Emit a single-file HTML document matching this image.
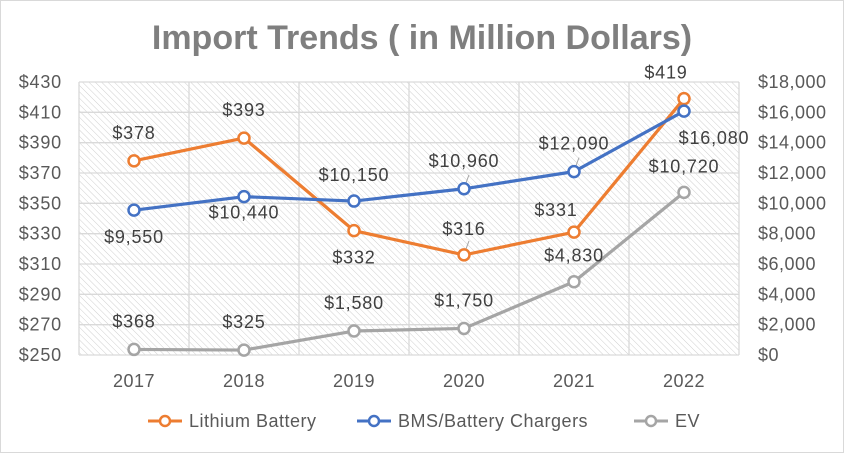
<!DOCTYPE html>
<html><head><meta charset="utf-8"><style>
body{margin:0;background:#fff;font-family:"Liberation Sans",sans-serif}
svg text{font-family:"Liberation Sans",sans-serif}
</style></head><body>
<svg id="chart" width="844" height="453" viewBox="0 0 844 453">
<defs><pattern id="hatch" width="4.5" height="4.5" patternUnits="userSpaceOnUse" patternTransform="rotate(-45)"><line x1="0" y1="0" x2="0" y2="4.5" stroke="#d0d0d0" stroke-width="1"/></pattern></defs>
<rect x="0.5" y="0.5" width="843" height="452" fill="#fff" stroke="#d9d9d9"/>
<text x="422" y="49" text-anchor="middle" font-size="34" font-weight="bold" fill="#7f7f7f">Import Trends ( in Million Dollars)</text>
<rect x="79" y="82" width="660" height="273" fill="url(#hatch)"/>
<g id="grid"></g><g id="axes"></g><g id="series"></g><g id="labels"></g>
<g font-size="18" letter-spacing="0.5">
<g><line x1="148" y1="421" x2="182" y2="421" stroke="#ed7d31" stroke-width="3"/><circle cx="165" cy="421" r="5" fill="#fff" stroke="#ed7d31" stroke-width="2.5"/><text x="189" y="427" fill="#595959">Lithium Battery</text></g>
<g><line x1="357" y1="421" x2="391" y2="421" stroke="#4472c4" stroke-width="3"/><circle cx="374" cy="421" r="5" fill="#fff" stroke="#4472c4" stroke-width="2.5"/><text x="398" y="427" fill="#595959">BMS/Battery Chargers</text></g>
<g><line x1="634" y1="421" x2="668" y2="421" stroke="#a5a5a5" stroke-width="3"/><circle cx="651" cy="421" r="5" fill="#fff" stroke="#a5a5a5" stroke-width="2.5"/><text x="675" y="427" fill="#595959">EV</text></g>
</g>
</svg>
<script>
const categories=["2017","2018","2019","2020","2021","2022"];
const lithium=[378,393,332,316,331,419];
const bms=[9550,10440,10150,10960,12090,16080];
const ev=[368,325,1580,1750,4830,10720];
const leftTicks=[250,270,290,310,330,350,370,390,410,430];
const rightTicks=[0,2000,4000,6000,8000,10000,12000,14000,16000,18000];
const NS="http://www.w3.org/2000/svg";
const X0=79,X1=739,Y0=355,Y1=82;
const bw=(X1-X0)/categories.length;
const x=i=>X0+bw*(i+0.5);
const yL=v=>Y0-(v-250)/180*(Y0-Y1);
const yR=v=>Y0-v/18000*(Y0-Y1);
function mk(tag,attrs,parent,text){const e=document.createElementNS(NS,tag);for(const k in attrs)e.setAttribute(k,attrs[k]);if(text!==undefined)e.textContent=text;document.getElementById(parent).appendChild(e);return e;}
const fmt=v=>"$"+v.toLocaleString("en-US");
leftTicks.forEach((t,i)=>{
 const g=mk("line",{x1:X0,x2:X1,y1:yL(t),y2:yL(t),stroke:"#d9d9d9","stroke-width":1.3},"grid");
 
 
 const l=mk("text",{x:62,y:yL(t)+6,"text-anchor":"end","font-size":18,"letter-spacing":0.8,fill:"#595959"},"axes",fmt(t));
 
 
});
rightTicks.forEach(t=>{
 const l=mk("text",{x:758,y:yR(t)+6,"font-size":18,"letter-spacing":0.5,fill:"#595959"},"axes",fmt(t));
 
 
});
for(let i=0;i<=categories.length;i++){
 const g=mk("line",{x1:X0+bw*i,x2:X0+bw*i,y1:Y1,y2:Y0,stroke:"#d9d9d9","stroke-width":1.3},"grid");
 
 
}
categories.forEach((c,i)=>{
 const l=mk("text",{x:x(i),y:387,"text-anchor":"middle","font-size":18,"letter-spacing":0.5,fill:"#595959"},"axes",c);
 
 
});
function series(vals,yf,color,name,offs,leaders){
 const pts=vals.map((v,i)=>x(i)+","+yf(v)).join(" ");
 const p=mk("polyline",{points:pts,fill:"none",stroke:color,"stroke-width":3.2,"stroke-linejoin":"round"},"series");
 
 
 vals.forEach((v,i)=>{
  if(leaders[i]){
   const ld=mk("line",{x1:x(i)+2,y1:yf(v)-6,x2:x(i)+5,y2:yf(v)-14,stroke:"#a6a6a6","stroke-width":1},"series");
   
   
  }
  const c=mk("circle",{cx:x(i),cy:yf(v),r:5.5,fill:"#fff",stroke:color,"stroke-width":2.5},"series");
  
  
  const o=offs[i];
  const t=mk("text",{x:x(i)+o[0],y:yf(v)+o[1],"text-anchor":"middle","font-size":18,"letter-spacing":0.8,fill:"#404040"},"labels",fmt(v));
  
  
 });
}
series(lithium,yL,"#ed7d31","lithium",[[0,-22],[0,-22],[0,33],[0,-20],[-18,-16],[-18,-20]],[0,0,0,1,0,0]);
series(bms,yR,"#4472c4","bms",[[0,33],[0,22],[0,-20],[0,-22],[0,-22],[30,33]],[0,0,0,1,1,0]);
series(ev,yR,"#a5a5a5","ev",[[0,-22],[0,-22],[0,-22],[0,-22],[0,-20],[0,-20]],[0,0,0,0,0,0]);
</script>
</body></html>
